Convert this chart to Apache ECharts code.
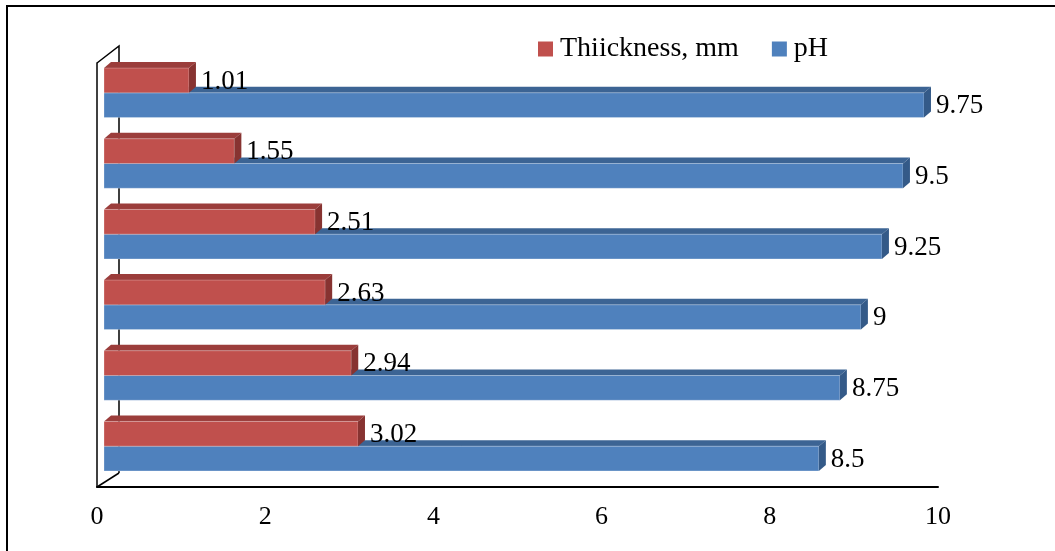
<!DOCTYPE html>
<html>
<head>
<meta charset="utf-8">
<script src="https://cdn.jsdelivr.net/npm/echarts@6/dist/echarts.min.js"></script>
<style>
  html, body { margin: 0; padding: 0; background: #fff; }
  #chart { width: 1055px; height: 551px; }
</style>
</head>
<body>
<div id="chart"></div>
<script>
// Six samples, listed bottom to top as they appear on the category axis
const categories = ['1', '2', '3', '4', '5', '6'];
const thickness = [3.02, 2.94, 2.63, 2.51, 1.55, 1.01];
const ph = [8.5, 8.75, 9, 9.25, 9.5, 9.75];
const xTicks = [0, 2, 4, 6, 8, 10];

const FONT = 'Liberation Serif';
const DEPTH_X = 7, DEPTH_Y = -6;     // extrusion of each bar
const SHIFT_X = 7;                   // bars sit slightly behind the front floor edge

const palette = {
  red:  { front: '#c0504d', top: '#9b3d3b', side: '#873331' },
  blue: { front: '#4f81bd', top: '#3c6494', side: '#345a88' }
};

// slot: 0 = upper bar of the pair, 1 = lower bar
function makeBarRenderer(colors, slot) {
  return function (params, api) {
    const v = api.value(0);
    const cat = api.value(1);
    const base = api.coord([0, cat]);
    const end = api.coord([v, cat]);
    const band = api.size([0, 1])[1];
    const h = band * 0.35;
    const center = base[1] - 5.5;
    const top = slot === 0 ? center - h : center;
    const x0 = base[0] + SHIFT_X;
    const x1 = end[0] + SHIFT_X;
    return {
      type: 'group',
      children: [
        {
          type: 'polygon',
          shape: { points: [[x0, top], [x1, top], [x1 + DEPTH_X, top + DEPTH_Y], [x0 + DEPTH_X, top + DEPTH_Y]] },
          style: { fill: colors.top }
        },
        {
          type: 'rect',
          shape: { x: x0, y: top, width: x1 - x0, height: h },
          style: { fill: colors.front, stroke: 'rgba(255,255,255,0.25)', lineWidth: 1 }
        },
        {
          type: 'polygon',
          shape: { points: [[x1, top], [x1 + DEPTH_X, top + DEPTH_Y], [x1 + DEPTH_X, top + h + DEPTH_Y], [x1, top + h]] },
          style: { fill: colors.side }
        },
        {
          type: 'text',
          x: x1 + DEPTH_X + 5,
          y: top + h / 2 + 1,
          style: {
            text: String(v),
            fill: '#000',
            font: '27px "' + FONT + '"',
            verticalAlign: 'middle',
            align: 'left'
          }
        }
      ]
    };
  };
}

// Back wall edge and the two receding edges of the 3D frame
function renderFrame(params) {
  const cs = params.coordSys;
  const left = cs.x, top = cs.y, bottom = cs.y + cs.height;
  const style = { stroke: '#000', lineWidth: 1.5, fill: null };
  return {
    type: 'group',
    children: [
      { type: 'polyline', shape: { points: [[left, top], [left + 22, top - 17], [left + 22, bottom - 14]] }, style },
      { type: 'line', shape: { x1: left, y1: bottom, x2: left + 22, y2: bottom - 14 }, style }
    ]
  };
}

const chart = echarts.init(document.getElementById('chart'));
chart.setOption({
  backgroundColor: '#fff',
  animation: false,
  grid: { left: 97, right: 117, top: 63, bottom: 64 },
  legend: {
    data: ['Thiickness, mm', 'pH'],
    left: 533,
    top: 30,
    itemWidth: 15,
    itemHeight: 15,
    itemGap: 33,
    icon: 'rect',
    textStyle: { fontFamily: FONT, fontSize: 28, color: '#000', padding: [0, 0, 0, 2] }
  },
  xAxis: {
    type: 'value',
    min: 0,
    max: 10,
    interval: 2,
    axisLine: { show: true, lineStyle: { color: '#000', width: 2 } },
    axisTick: { show: false },
    splitLine: { show: false },
    axisLabel: {
      margin: 17,
      fontFamily: FONT,
      fontSize: 26,
      color: '#000',
      formatter: function (val) { return xTicks.indexOf(val) >= 0 ? String(val) : ''; }
    }
  },
  yAxis: {
    type: 'category',
    data: categories,
    axisLine: { show: true, lineStyle: { color: '#000', width: 1.5 } },
    axisTick: { show: false },
    axisLabel: { show: false },
    splitLine: { show: false }
  },
  graphic: [
    {
      type: 'rect',
      z: 200,
      shape: { x: 9, y: 527, width: 1100, height: 40 },
      style: { fill: '#fff' }
    },
    {
      type: 'rect',
      z: 201,
      shape: { x: 7, y: 6, width: 1200, height: 700 },
      style: { fill: null, stroke: '#000', lineWidth: 2 }
    }
  ],
  series: [
    {
      name: 'frame',
      type: 'custom',
      z: 1,
      clip: false,
      silent: true,
      renderItem: renderFrame,
      data: [[0, 0]]
    },
    {
      name: 'pH',
      type: 'custom',
      z: 2,
      clip: false,
      itemStyle: { color: palette.blue.front },
      renderItem: makeBarRenderer(palette.blue, 1),
      encode: { x: 0, y: 1 },
      data: ph.map((v, i) => [v, i])
    },
    {
      name: 'Thiickness, mm',
      type: 'custom',
      z: 3,
      clip: false,
      itemStyle: { color: palette.red.front },
      renderItem: makeBarRenderer(palette.red, 0),
      encode: { x: 0, y: 1 },
      data: thickness.map((v, i) => [v, i])
    }
  ]
});
</script>
</body>
</html>
